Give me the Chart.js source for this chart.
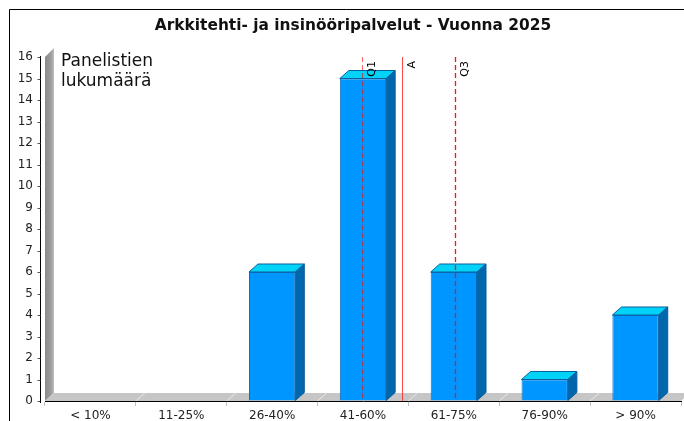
<!DOCTYPE html>
<html><head><meta charset="utf-8">
<script src="https://cdn.jsdelivr.net/npm/chart.js@4/dist/chart.umd.min.js"></script>
<style>html,body{margin:0;padding:0;background:#fff}</style>
</head><body>
<canvas id="c" width="684" height="421" style="display:block;width:684px;height:421px"></canvas>
<script>
// ---- data ----
const chartTitle = 'Arkkitehti- ja insinööripalvelut - Vuonna 2025';
const yAxisTitle = ['Panelistien', 'lukumäärä'];
const categories = ['< 10%', '11-25%', '26-40%', '41-60%', '61-75%', '76-90%', '> 90%'];
const counts = [0, 0, 6, 15, 6, 1, 4];
const yTicks = [0, 1, 2, 3, 4, 5, 6, 7, 8, 9, 10, 11, 12, 13, 14, 15, 16];
const markerLabels = ['Q1', 'A', 'Q3'];
const markerPositions = [2.99, 3.43, 4.01]; // in category-index units

// ---- styles ----
const FONT = '"DejaVu Sans", "Liberation Sans", sans-serif';
const D3X = 9, D3Y = 8;
const markerStyles = {
  Q1: {color: 'rgba(255,0,0,0.6)', dash: [5, 3], width: 1},
  A: {color: 'rgba(255,40,40,0.85)', dash: [], width: 1},
  Q3: {color: '#ff1010', dash: [5, 3], width: 1.3}
};

const deco = {
  id: 'deco',
  beforeDatasetsDraw(chart) {
    const {ctx, chartArea: a, scales: {x, y}} = chart;
    ctx.save();
    const g = ctx.createLinearGradient(a.left, 0, a.left + D3X, 0);
    g.addColorStop(0, '#8a8a8a'); g.addColorStop(0.65, '#9c9c9c'); g.addColorStop(1, '#bdbdbd');
    ctx.fillStyle = g;
    ctx.beginPath();
    ctx.moveTo(a.left, a.bottom); ctx.lineTo(a.left, a.top);
    ctx.lineTo(a.left + D3X, a.top - D3Y - 1); ctx.lineTo(a.left + D3X, a.bottom - D3Y);
    ctx.closePath(); ctx.fill();
    ctx.fillStyle = '#c6c6c6';
    ctx.beginPath();
    ctx.moveTo(a.left, a.bottom); ctx.lineTo(a.left + D3X, a.bottom - D3Y);
    ctx.lineTo(a.right + D3X, a.bottom - D3Y); ctx.lineTo(a.right, a.bottom);
    ctx.closePath(); ctx.fill();
    ctx.strokeStyle = 'rgba(255,255,255,0.6)'; ctx.lineWidth = 1;
    for (let i = 1; i < categories.length; i++) {
      const bx = (x.getPixelForValue(i - 1) + x.getPixelForValue(i)) / 2;
      ctx.beginPath(); ctx.moveTo(bx, a.bottom); ctx.lineTo(bx + D3X, a.bottom - D3Y); ctx.stroke();
    }
    const ax = a.left - 5 + 0.5;
    ctx.strokeStyle = '#000';
    ctx.beginPath(); ctx.moveTo(ax, y.getPixelForValue(yTicks[yTicks.length - 1]) - 1); ctx.lineTo(ax, a.bottom + 2); ctx.stroke();
    ctx.strokeStyle = '#555';
    yTicks.forEach(v => {
      const py = Math.round(y.getPixelForValue(v)) + 0.5;
      ctx.beginPath(); ctx.moveTo(ax - 3, py); ctx.lineTo(ax, py); ctx.stroke();
    });
    ctx.restore();
  },
  afterDatasetsDraw(chart) {
    const {ctx, chartArea: a, scales: {x}} = chart;
    const meta = chart.getDatasetMeta(0);
    ctx.save();
    ctx.lineWidth = 1;
    ctx.strokeStyle = '#0a5f9e';
    meta.data.forEach((bar, i) => {
      if (!counts[i]) return;
      const p = bar.getProps(['x', 'y', 'base', 'width'], true);
      const l = p.x - p.width / 2, r = p.x + p.width / 2, t = p.y, b = p.base;
      ctx.fillStyle = '#00d3f7';
      ctx.beginPath();
      ctx.moveTo(l, t); ctx.lineTo(l + D3X, t - D3Y); ctx.lineTo(r + D3X, t - D3Y); ctx.lineTo(r, t);
      ctx.closePath(); ctx.fill(); ctx.stroke();
      ctx.fillStyle = '#0067ad';
      ctx.beginPath();
      ctx.moveTo(r, t); ctx.lineTo(r + D3X, t - D3Y); ctx.lineTo(r + D3X, b - D3Y); ctx.lineTo(r, b);
      ctx.closePath(); ctx.fill(); ctx.stroke();
    });
    markerLabels.forEach((lab, i) => {
      const st = markerStyles[lab];
      const mx = Math.round(x.getPixelForValue(markerPositions[i])) + 0.5;
      ctx.save();
      ctx.lineWidth = st.width;
      ctx.strokeStyle = st.color;
      ctx.setLineDash(st.dash);
      ctx.beginPath(); ctx.moveTo(mx, a.top); ctx.lineTo(mx, a.bottom); ctx.stroke();
      ctx.restore();
      ctx.save();
      ctx.translate(mx + 12, a.top + 4);
      ctx.rotate(-Math.PI / 2);
      ctx.font = '11px ' + FONT;
      ctx.fillStyle = '#000';
      ctx.textAlign = 'right';
      ctx.textBaseline = 'alphabetic';
      ctx.fillText(lab, 0, 0);
      ctx.restore();
    });
    ctx.fillStyle = '#111';
    ctx.font = '17px ' + FONT;
    ctx.textAlign = 'left';
    ctx.textBaseline = 'alphabetic';
    yAxisTitle.forEach((s, i) => ctx.fillText(s, 61, 66 + i * 20));
    ctx.font = 'bold 15.4px ' + FONT;
    ctx.textAlign = 'center';
    ctx.fillText(chartTitle, 353, 30);
    ctx.strokeStyle = '#000';
    ctx.lineWidth = 1;
    ctx.beginPath(); ctx.moveTo(9.5, 421); ctx.lineTo(9.5, 9.5); ctx.lineTo(684, 9.5); ctx.stroke();
    ctx.restore();
  }
};

new Chart(document.getElementById('c'), {
  type: 'bar',
  data: {
    labels: categories,
    datasets: [{
      data: counts,
      backgroundColor: '#0096ff',
      borderColor: '#0a6fbf',
      borderWidth: 1,
      barPercentage: 0.51,
      categoryPercentage: 1
    }]
  },
  options: {
    responsive: false,
    animation: false,
    devicePixelRatio: 1,
    layout: {padding: {top: 57, right: 3, bottom: 0, left: 0}},
    plugins: {legend: {display: false}, title: {display: false}, tooltip: {enabled: false}},
    scales: {
      x: {
        offset: true,
        grid: {offset: true, drawOnChartArea: false, drawTicks: true, tickLength: 5, color: '#c0c0c0'},
        border: {display: true, color: '#000', width: 1},
        ticks: {font: {family: FONT, size: 12}, color: '#222', padding: 3, maxRotation: 0, autoSkip: false},
        afterFit(s) { s.height = 20; }
      },
      y: {
        min: 0, max: 16,
        grid: {drawOnChartArea: false, drawTicks: false},
        border: {display: false},
        ticks: {stepSize: 1, font: {family: FONT, size: 12}, color: '#222', padding: 12},
        afterFit(s) { s.width = 45; }
      }
    }
  },
  plugins: [deco]
});
</script>
</body></html>
